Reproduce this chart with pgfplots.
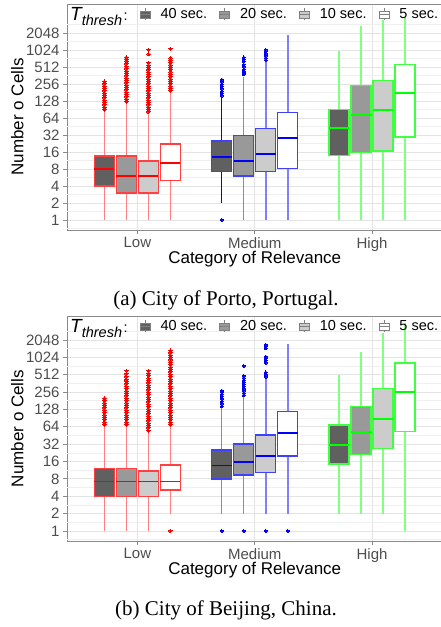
\documentclass[border=0pt]{standalone}
\usepackage{fontspec}
\setmainfont{Liberation Sans}
\newfontfamily\capfont{Liberation Serif}
\usepackage{pgfplots}
\pgfplotsset{compat=1.18}
\usepgfplotslibrary{statistics}
\definecolor{f40}{HTML}{606060}
\definecolor{f20}{HTML}{999999}
\definecolor{f10}{HTML}{CCCCCC}
\definecolor{f5}{HTML}{FFFFFF}
\definecolor{gridmaj}{HTML}{E3E3E3}
\definecolor{gridmin}{HTML}{EFEFEF}
\definecolor{txt}{HTML}{4D4D4D}
\definecolor{frame}{HTML}{8A8A8A}
\pgfplotsset{
  grp/.style={mark=*, mark size=1.6pt, mark options={draw=#1, fill=#1, solid, line width=0pt},
    boxplot/every box/.style={draw=#1!75, line width=1.4pt},
    boxplot/every whisker/.style={draw=#1!50, line width=1.5pt},
    boxplot/every median/.style={draw=#1, line width=1.8pt}},
  fl/.style={boxplot/every box/.append style={fill=#1}},
  bp/.style n args={6}{boxplot prepared={draw position=#1, lower whisker=#2, lower quartile=#3, median=#4, upper quartile=#5, upper whisker=#6}},
  bpleg/.style={legend image code/.code={
    \draw[draw=gray, line width=0.9pt] (5pt,-6pt) -- (5pt,6pt);
    \draw[draw=gray, line width=0.9pt, fill=#1] (0pt,-3.5pt) rectangle (10pt,3.5pt);
    \draw[draw=gray, line width=0.9pt] (0pt,0pt) -- (10pt,0pt);}},
  myaxis/.style={
    scale only axis, width=375.5pt,
    xmin=0.4, xmax=3.6,
    xtick={1,2,3}, xticklabels={Low,Medium,High},
    ytick={1,2,4,8,16,32,64,128,256,512,1024,2048},
    yticklabels={1,2,4,8,16,32,64,128,256,512,1024,2048},
    extra y ticks={0.7071,1.4142,2.8284,5.6569,11.314,22.627,45.255,90.51,181.02,362.04,724.08,1448.2,2896.3},
    extra y tick labels={},
    extra y tick style={ymajorgrids=true, major grid style={draw=gridmin, line width=0.5pt}, major tick length=0pt},
    xmajorgrids, ymajorgrids,
    major grid style={draw=gridmaj, line width=0.7pt},
    axis line style={draw=frame, line width=0.8pt},
    tick align=outside, tick pos=left, major tick length=4pt,
    tick style={draw=frame, line width=0.8pt},
    ticklabel style={font=\fontsize{15}{15}\selectfont, text=txt},
    xlabel={Category of Relevance}, ylabel={Number o Cells},
    every axis x label/.style={at={(axis description cs:0.5,-0.15)}, anchor=base, font=\fontsize{17}{17}\selectfont},
    every axis y label/.style={at={(axis description cs:-0.1164,0.5)}, rotate=90, anchor=base, font=\fontsize{17}{17}\selectfont},
    boxplot/draw direction=y, boxplot/box extend=0.17, boxplot/whisker extend=0,
    legend columns=5,
    legend style={at={(rel axis cs:0,1)}, anchor=north west, xshift=-8pt, yshift=0pt, draw=none, fill=none,
      font=\fontsize{14.5}{15}\selectfont, inner sep=1pt,
      /tikz/every odd column/.append style={column sep=8pt},
      /tikz/every even column/.append style={column sep=10pt}},
  },
}
\newcommand{\ttitle}{{\fontsize{19}{19}\selectfont\itshape T}\raisebox{-5pt}{\fontsize{14.5}{14.5}\selectfont\itshape thresh}\kern1.5pt:}
\begin{document}
\begin{tikzpicture}
\useasboundingbox (0,0) rectangle (440pt,627pt);
% ---------------- Porto ----------------
\begin{axis}[ymode=log, log basis y=2, myaxis, at={(67pt,397pt)}, anchor=south west, height=226pt, ymin=0.664, ymax=6700]
\addlegendimage{empty legend}
\addlegendentry{\ttitle}
\addlegendimage{bpleg=f40}\addlegendentry{40 sec.}
\addlegendimage{bpleg=f20}\addlegendentry{20 sec.}
\addlegendimage{bpleg=f10}\addlegendentry{10 sec.}
\addlegendimage{bpleg=f5}\addlegendentry{5 sec.}
% Low
\addplot[grp=red, fl=f40, bp={0.71875}{1}{4}{8}{13.6}{84}] table[row sep=\\, y index=0] {d\\ 90\\ 99\\ 109\\ 120\\ 132\\ 145\\ 160\\ 176\\ 193\\ 212\\ 234\\ 257\\ 283\\};
\addplot[grp=red, fl=f20, bp={0.90625}{1}{3}{6}{13.6}{118}] table[row sep=\\, y index=0] {d\\ 125\\ 138\\ 151\\ 166\\ 183\\ 201\\ 222\\ 244\\ 268\\ 295\\ 324\\ 357\\ 392\\ 432\\ 475\\ 522\\ 580\\ 650\\ 700\\ 760\\};
\addplot[grp=red, fl=f10, bp={1.09375}{1}{3}{6}{11}{78}] table[row sep=\\, y index=0] {d\\ 82\\ 90\\ 99\\ 109\\ 120\\ 132\\ 145\\ 160\\ 176\\ 193\\ 212\\ 234\\ 257\\ 283\\ 311\\ 342\\ 376\\ 414\\ 455\\ 500\\ 550\\ 610\\ 870\\ 1035\\};
\addplot[grp=red, fl=f5, bp={1.28125}{1}{5}{10.3}{22}{187}] table[row sep=\\, y index=0] {d\\ 195\\ 214\\ 236\\ 259\\ 285\\ 314\\ 345\\ 380\\ 418\\ 460\\ 505\\ 556\\ 612\\ 673\\ 740\\ 1080\\};
% Medium
\addplot[grp=blue, fl=f40, bp={1.71875}{2}{7.2}{13}{25}{143}, boxplot/every whisker/.style={draw=blue, line width=1.5pt}] table[row sep=\\, y index=0] {d\\ 1\\ 158\\ 174\\ 191\\ 210\\ 231\\ 254\\ 280\\ 305\\};
\addplot[grp=blue, fl=f20, bp={1.90625}{1}{6}{11.2}{31}{345}] table[row sep=\\, y index=0] {d\\ 380\\ 405\\ 435\\ 465\\ 520\\ 565\\ 640\\ 700\\ 760\\};
\addplot[grp=blue, fl=f10, bp={2.09375}{1}{7.2}{14.7}{42}{635}] table[row sep=\\, y index=0] {d\\ 680\\ 740\\ 810\\ 880\\ 960\\ 1030\\};
\addplot[grp=blue, fl=f5, bp={2.28125}{1}{8.2}{28}{81}{1890}] coordinates {};
% High
\addplot[grp=green, fl=f40, bp={2.71875}{1}{13.8}{42}{91}{980}] coordinates {};
\addplot[grp=green, fl=f20, bp={2.90625}{1}{15.5}{72}{239}{2760}] coordinates {};
\addplot[grp=green, fl=f10, bp={3.09375}{1}{16.7}{89}{298}{3470}] coordinates {};
\addplot[grp=green, fl=f5, bp={3.28125}{1}{29.5}{180}{572}{3980}] coordinates {};
\end{axis}
\node[font=\capfont\fontsize{21}{24}\selectfont, anchor=base] at (226pt,321.3pt) {(a) City of Porto, Portugal.};
% ---------------- Beijing ----------------
\begin{axis}[ymode=log, log basis y=2, myaxis, at={(67pt,86pt)}, anchor=south west, height=225pt, ymin=0.669, ymax=5330]
\addlegendimage{empty legend}
\addlegendentry{\ttitle}
\addlegendimage{bpleg=f40}\addlegendentry{40 sec.}
\addlegendimage{bpleg=f20}\addlegendentry{20 sec.}
\addlegendimage{bpleg=f10}\addlegendentry{10 sec.}
\addlegendimage{bpleg=f5}\addlegendentry{5 sec.}
% Low
\addplot[grp=red, fl=f40, bp={0.71875}{1}{4}{7.2}{12.2}{64}] table[row sep=\\, y index=0] {d\\ 70\\ 77\\ 85\\ 93\\ 102\\ 113\\ 124\\ 136\\ 150\\ 165\\ 181\\ 200\\};
\addplot[grp=red, fl=f20, bp={0.90625}{1}{4}{7.2}{12.2}{64}] table[row sep=\\, y index=0] {d\\ 70\\ 77\\ 85\\ 93\\ 102\\ 113\\ 124\\ 136\\ 150\\ 165\\ 181\\ 200\\ 220\\ 242\\ 266\\ 293\\ 322\\ 354\\ 390\\ 415\\ 470\\ 530\\ 600\\};
\addplot[grp=red, fl=f10, bp={1.09375}{1}{4}{7.2}{11}{51}] table[row sep=\\, y index=0] {d\\ 55\\ 61\\ 67\\ 73\\ 81\\ 89\\ 98\\ 107\\ 118\\ 130\\ 143\\ 157\\ 173\\ 190\\ 209\\ 230\\ 253\\ 278\\ 306\\ 337\\ 370\\ 407\\ 448\\ 493\\ 542\\ 600\\};
\addplot[grp=red, fl=f5, bp={1.28125}{2}{5.1}{7.2}{14}{64}] table[row sep=\\, y index=0] {d\\ 1\\ 70\\ 77\\ 85\\ 93\\ 102\\ 113\\ 124\\ 136\\ 150\\ 165\\ 181\\ 200\\ 220\\ 242\\ 266\\ 293\\ 322\\ 354\\ 390\\ 429\\ 472\\ 519\\ 571\\ 628\\ 690\\ 760\\ 835\\ 920\\ 1010\\ 1110\\ 1220\\ 1340\\};
% Medium
\addplot[grp=blue, fl=f40, bp={1.71875}{2}{8}{13.6}{25.4}{134}] table[row sep=\\, y index=0] {d\\ 1\\ 145\\ 160\\ 176\\ 194\\ 213\\ 235\\ 258\\ 270\\};
\addplot[grp=blue, fl=f20, bp={1.90625}{2}{9.3}{15.5}{32}{213}] table[row sep=\\, y index=0] {d\\ 1\\ 225\\ 245\\ 268\\ 292\\ 318\\ 346\\ 377\\ 410\\ 447\\ 487\\ 725\\};
\addplot[grp=blue, fl=f10, bp={2.09375}{2}{10.3}{20}{46}{445}] table[row sep=\\, y index=0] {d\\ 1\\ 470\\ 510\\ 560\\ 820\\ 900\\ 980\\ 1050\\ 1470\\ 1570\\ 1680\\};
\addplot[grp=blue, fl=f5, bp={2.28125}{2}{20}{49.5}{117}{1750}] table[row sep=\\, y index=0] {d\\ 1\\};
% High
\addplot[grp=green, fl=f40, bp={2.71875}{2}{14.5}{31}{69}{508}] coordinates {};
\addplot[grp=green, fl=f20, bp={2.90625}{2}{21}{52}{143}{1250}] coordinates {};
\addplot[grp=green, fl=f10, bp={3.09375}{2}{26.7}{87}{298}{2680}] coordinates {};
\addplot[grp=green, fl=f5, bp={3.28125}{1}{53}{254}{810}{4000}] coordinates {};
\end{axis}
\node[font=\capfont\fontsize{21}{24}\selectfont, anchor=base] at (226pt,11.3pt) {(b) City of Beijing, China.};
\end{tikzpicture}
\end{document}
